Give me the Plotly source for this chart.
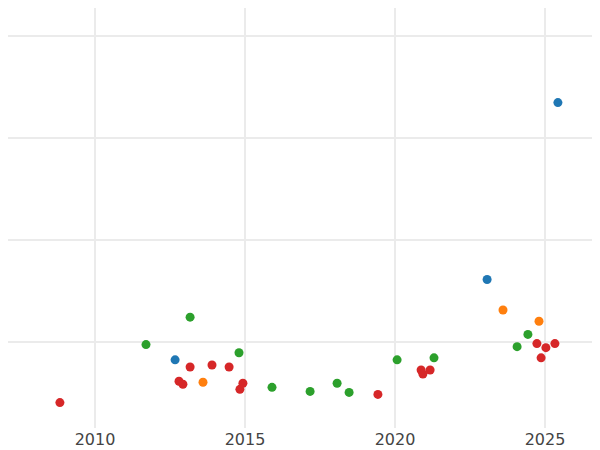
import plotly.graph_objects as go

blue_x = [2025.43, 2023.07, 2012.67]
blue_y = [3.35, 1.61, 0.82]
orange_x = [2023.6, 2024.8, 2013.6]
orange_y = [1.31, 1.20, 0.60]
green_x = [2011.7, 2013.17, 2014.8, 2015.9, 2017.17, 2018.07, 2018.47, 2020.07, 2021.3, 2024.07, 2024.43]
green_y = [0.97, 1.24, 0.89, 0.55, 0.51, 0.59, 0.50, 0.82, 0.84, 0.95, 1.07]
red_x = [2008.83, 2012.8, 2012.93, 2013.17, 2013.9, 2014.47, 2014.83, 2014.93, 2019.43,
         2020.87, 2020.93, 2021.17, 2024.73, 2024.87, 2025.03, 2025.33]
red_y = [0.40, 0.61, 0.58, 0.75, 0.77, 0.75, 0.53, 0.59, 0.48,
         0.72, 0.68, 0.72, 0.98, 0.84, 0.94, 0.98]

series = [
    (blue_x, blue_y, "#1f77b4"),
    (orange_x, orange_y, "#ff7f0e"),
    (green_x, green_y, "#2ca02c"),
    (red_x, red_y, "#d62728"),
]

fig = go.Figure()
for xs, ys, color in series:
    fig.add_trace(go.Scatter(x=xs, y=ys, mode="markers",
                             marker=dict(color=color, size=9), showlegend=False))

fig.update_layout(
    width=600, height=450,
    margin=dict(l=0, r=0, t=0, b=30),
    plot_bgcolor="white", paper_bgcolor="white",
    font=dict(family="DejaVu Sans", size=16, color="#444"),
)
# ranges offset to compensate for the page's 8px body margin
fig.update_xaxes(range=[2007.1, 2027.1], tickvals=[2010, 2015, 2020, 2025],
                 showgrid=True, gridcolor="#ebebeb", gridwidth=2, zeroline=False)
fig.update_yaxes(range=[0.15, 4.28], tickvals=[1, 2, 3, 4], showticklabels=False,
                 showgrid=True, gridcolor="#ebebeb", gridwidth=2, zeroline=False)

fig.write_html("out.html")
